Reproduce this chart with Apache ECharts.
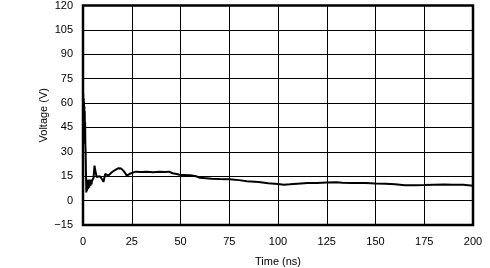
<!DOCTYPE html>
<html><head><meta charset="utf-8">
<script src="https://cdn.jsdelivr.net/npm/echarts@6/dist/echarts.min.js"></script>
<style>html,body{margin:0;padding:0;background:#fff}#c{width:490px;height:268px}</style>
</head><body><div id="c"></div>
<script>
var times = [0, 0.1, 0.2, 0.3, 0.4, 0.5, 0.6, 0.7, 0.8, 0.9, 1.0, 1.1, 1.2, 1.35, 1.5, 1.7, 1.85,
  2.0, 2.15, 2.3, 2.45, 2.6, 2.75, 2.9, 3.05, 3.2, 3.35, 3.5, 3.65, 3.8, 3.95, 4.1, 4.25, 4.4, 4.55, 4.7, 4.85, 5.0, 5.15, 5.4, 5.9, 6.4,
  7, 8, 8.7, 9.9, 10.5, 11.4, 12.2, 13, 13.8, 14.8, 16, 18, 19.5, 21, 22.5, 24, 25, 27, 30, 33, 36,
  39, 42, 44, 46, 48, 50, 52, 55, 58, 60, 63, 66, 70, 75, 80, 84, 90, 95, 100, 103, 106, 110, 115,
  120, 125, 130, 133, 138, 145, 150, 155, 160, 165, 170, 175, 180, 185, 190, 195, 200];
var volts = [64, 66, 40, 63, 37, 61, 36, 58, 35, 55, 36, 48, 35, 30, 18, 5, 10,
  6, 12, 7, 13, 7, 12, 8, 13, 8, 12, 9, 13, 9, 12, 10, 13, 10, 12, 11, 13, 11, 13, 14, 21.5, 18,
  14.5, 15.5, 15, 13, 11.5, 16.4, 15.5, 15.4, 16.5, 17.4, 18.5, 19.9, 19.8, 18, 15.4, 16.5, 17.4, 17.8, 17.6, 17.8, 17.5,
  17.8, 17.6, 17.8, 16.8, 16.4, 15.8, 15.8, 15.6, 15, 14, 13.8, 13.5, 13.3, 13.1, 12.6, 11.9, 11.4, 10.7, 10.2, 9.8, 10, 10.4, 10.9,
  10.9, 11.1, 11.3, 11, 10.9, 10.9, 10.5, 10.3, 10.1, 9.5, 9.5, 9.6, 9.8, 9.9, 9.7, 9.8, 9.2];
var xTicks = [0, 25, 50, 75, 100, 125, 150, 175, 200];
var yTicks = [-15, 0, 15, 30, 45, 60, 75, 90, 105, 120];

var pts = times.map(function (t, i) { return [t, volts[i]]; });
var chart = echarts.init(document.getElementById('c'), null, {renderer: 'canvas'});
var font = 'Liberation Sans, Arial, Helvetica, sans-serif';
chart.setOption({
  animation: false,
  grid: {left: 83, right: 17, top: 5.5, bottom: 43, show: true, borderColor: '#000', borderWidth: 2.5,
    backgroundColor: 'transparent', containLabel: false, outerBoundsMode: 'none'},
  xAxis: {
    type: 'value', min: xTicks[0], max: xTicks[xTicks.length - 1], interval: 25,
    name: 'Time (ns)', nameLocation: 'middle', nameGap: 31, nameMoveOverlap: false,
    nameTextStyle: {fontFamily: font, fontSize: 11, color: '#000'},
    axisLine: {show: false}, axisTick: {show: false},
    axisLabel: {fontFamily: font, fontSize: 11, color: '#000', margin: 11},
    splitLine: {show: true, lineStyle: {color: '#000', width: 1}}
  },
  yAxis: {
    type: 'value', min: yTicks[0], max: yTicks[yTicks.length - 1], interval: 15,
    name: 'Voltage (V)', nameLocation: 'middle', nameGap: 34, nameMoveOverlap: false,
    nameTextStyle: {fontFamily: font, fontSize: 11, color: '#000'},
    axisLine: {show: false}, axisTick: {show: false},
    axisLabel: {fontFamily: font, fontSize: 11, color: '#000', margin: 10,
      formatter: function (v) { return String(v).replace('-', '\u2212'); }},
    splitLine: {show: true, lineStyle: {color: '#000', width: 1}}
  },
  series: [{
    type: 'line', data: pts, showSymbol: false, symbol: 'none',
    lineStyle: {color: '#000', width: 2}, clip: true
  }]
});
</script></body></html>
